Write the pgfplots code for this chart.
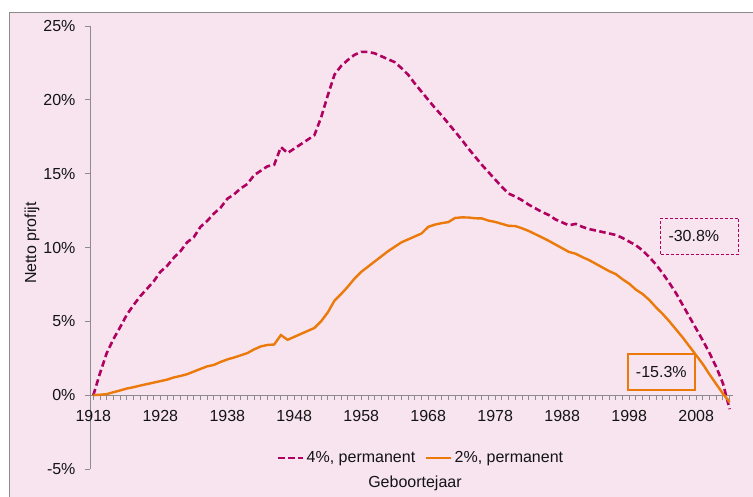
\documentclass[border=0pt]{standalone}
\usepackage{pgfplots}
\pgfplotsset{compat=1.18}
\usepackage{fontspec}
\setmainfont{Liberation Sans}
\definecolor{bgpink}{RGB}{247,228,239}
\definecolor{magline}{RGB}{176,0,96}
\definecolor{orline}{RGB}{236,122,10}
\definecolor{axgray}{RGB}{140,140,140}
\definecolor{txt}{RGB}{20,20,20}
\begin{document}
\fontsize{16}{19}\selectfont
\begin{tikzpicture}
\useasboundingbox (0pt,0pt) rectangle (753pt,496pt);
\fill[white] (0pt,0pt) rectangle (753pt,496pt);
\filldraw[fill=bgpink, draw=axgray, line width=1pt] (9pt,-5pt) rectangle (760pt,483pt);
\begin{axis}[
  at={(90pt,27pt)}, anchor=south west, scale only axis,
  width=643pt, height=443pt,
  xmin=1917.5, xmax=2013.5, ymin=-5, ymax=25,
  axis x line*=middle, axis y line*=left,
  axis line style={axgray, line width=0.8pt},
  xtick={1918,1928,...,2008}, minor xtick={1918,...,2013},
  ytick={-5,0,...,25},
  tick style={axgray, line width=0.8pt},
  major tick length=5pt, minor tick length=5pt,
  tick align=outside,
  /pgf/number format/assume math mode=true,
  xticklabel style={/pgf/number format/1000 sep={}, yshift=-5pt, text=txt},
  yticklabel={\pgfmathprintnumber{\tick}\%},
  yticklabel style={xshift=-4pt, text=txt},
  xlabel={Geboortejaar},
  xlabel style={at={(axis description cs:0.5054,-0.0316)}, anchor=center, text=txt},
  ylabel={Netto profijt},
  ylabel style={at={(axis description cs:-0.0902,0.51)}, anchor=center, rotate=0, text=txt},
  legend style={at={(axis description cs:0.515,0.025)}, anchor=center, draw=none, fill=none,
    legend columns=2, text=txt, /tikz/every even column/.append style={column sep=8pt}},
  legend image code/.code={\draw[#1] (0pt,0pt) -- (25pt,0pt);},
  clip=false,
]
\addplot[magline, line width=2.6pt, dash pattern=on 6.5pt off 3.5pt] coordinates {
(1918,0) (1919,1.5) (1920,2.85) (1921,3.8) (1922,4.6) (1923,5.45) (1924,6.1) (1925,6.7)
(1926,7.2) (1927,7.7) (1928,8.35) (1929,8.75) (1930,9.3) (1931,9.75) (1932,10.35) (1933,10.7)
(1934,11.4) (1935,11.8) (1936,12.3) (1937,12.7) (1938,13.3) (1939,13.6) (1940,14.0) (1941,14.3)
(1942,14.9) (1943,15.2) (1944,15.5) (1945,15.6) (1946,16.8) (1947,16.4) (1948,16.7) (1949,17.0)
(1950,17.3) (1951,17.6) (1952,18.8) (1953,20.3) (1954,21.7) (1955,22.3) (1956,22.7) (1957,23.05)
(1958,23.25) (1959,23.25) (1960,23.15) (1961,22.95) (1962,22.75) (1963,22.55) (1964,22.15) (1965,21.7)
(1966,21.1) (1967,20.55) (1968,20.0) (1969,19.45) (1970,18.95) (1971,18.4) (1972,17.85) (1973,17.3)
(1974,16.7) (1975,16.15) (1976,15.6) (1977,15.1) (1978,14.6) (1979,14.1) (1980,13.65) (1981,13.45)
(1982,13.2) (1983,12.9) (1984,12.65) (1985,12.4) (1986,12.2) (1987,11.9) (1988,11.7) (1989,11.5)
(1990,11.6) (1991,11.4) (1992,11.25) (1993,11.15) (1994,11.05) (1995,10.95) (1996,10.85) (1997,10.65)
(1998,10.4) (1999,10.15) (2000,9.8) (2001,9.35) (2002,8.85) (2003,8.25) (2004,7.6) (2005,6.9)
(2006,6.1) (2007,5.3) (2008,4.5) (2009,3.7) (2010,2.85) (2011,1.9) (2012,0.8) (2013,-0.95)
};
\addlegendentry{4\%, permanent}
\addplot[orline, line width=2.4pt] coordinates {
(1918,0) (1919,0.03) (1920,0.07) (1921,0.2) (1922,0.32) (1923,0.45) (1924,0.54) (1925,0.65)
(1926,0.75) (1927,0.85) (1928,0.95) (1929,1.05) (1930,1.2) (1931,1.3) (1932,1.42) (1933,1.6)
(1934,1.78) (1935,1.95) (1936,2.05) (1937,2.25) (1938,2.42) (1939,2.55) (1940,2.7) (1941,2.85)
(1942,3.1) (1943,3.3) (1944,3.4) (1945,3.43) (1946,4.07) (1947,3.75) (1948,3.95) (1949,4.15)
(1950,4.35) (1951,4.55) (1952,5.0) (1953,5.6) (1954,6.4) (1955,6.85) (1956,7.35) (1957,7.9)
(1958,8.35) (1959,8.7) (1960,9.05) (1961,9.4) (1962,9.75) (1963,10.05) (1964,10.35) (1965,10.55)
(1966,10.75) (1967,10.95) (1968,11.4) (1969,11.55) (1970,11.65) (1971,11.72) (1972,12.0) (1973,12.04)
(1974,12.03) (1975,11.98) (1976,11.97) (1977,11.82) (1978,11.73) (1979,11.6) (1980,11.47) (1981,11.45)
(1982,11.3) (1983,11.12) (1984,10.9) (1985,10.68) (1986,10.45) (1987,10.2) (1988,9.95) (1989,9.7)
(1990,9.58) (1991,9.35) (1992,9.15) (1993,8.9) (1994,8.65) (1995,8.4) (1996,8.2) (1997,7.85)
(1998,7.55) (1999,7.15) (2000,6.85) (2001,6.45) (2002,5.95) (2003,5.5) (2004,5.0) (2005,4.45)
(2006,3.9) (2007,3.3) (2008,2.7) (2009,2.1) (2010,1.4) (2011,0.75) (2012,0.1) (2013,-0.47)
};
\addlegendentry{2\%, permanent}
\node[draw=magline, dash pattern=on 3pt off 2pt, line width=1pt, minimum height=36pt,
  text width=62pt, inner xsep=8pt, align=left, text=txt] at (axis cs:2008.5,10.77) {-30.8\%};
\node[draw=orline, line width=1.5pt, minimum height=36pt,
  text width=51pt, inner xsep=8pt, align=center, text=txt] at (axis cs:2002.8,1.56) {-15.3\%};
\end{axis}
\end{tikzpicture}
\end{document}
